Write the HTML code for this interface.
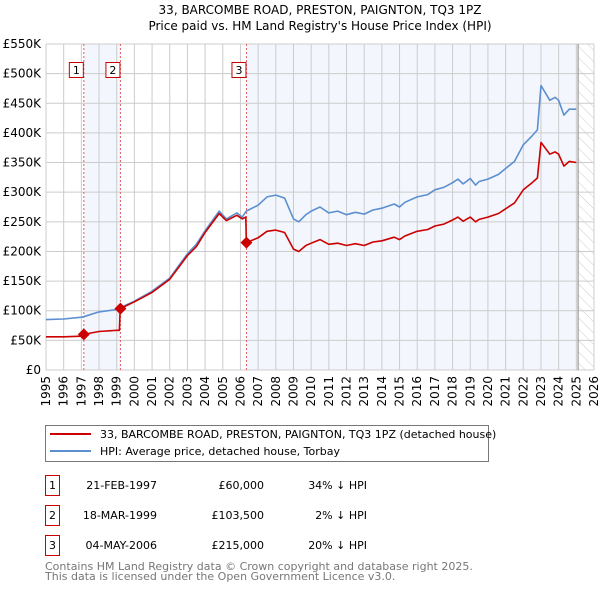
<!DOCTYPE html>
<html><head><meta charset="utf-8"><style>
body{margin:0;background:#fff;font-family:"DejaVu Sans","Liberation Sans",sans-serif}
svg text{font-family:"DejaVu Sans","Liberation Sans",sans-serif}
</style></head><body>
<svg id="c" width="600" height="590" xmlns="http://www.w3.org/2000/svg">
<defs><pattern id="hatch" patternUnits="userSpaceOnUse" width="8" height="8" patternTransform="rotate(-45)"><line x1="0" y1="0" x2="0" y2="8" stroke="#ccc" stroke-width="1"/></pattern></defs>
<text x="320" y="14" text-anchor="middle" font-size="12">33, BARCOMBE ROAD, PRESTON, PAIGNTON, TQ3 1PZ</text>
<text x="320" y="30" text-anchor="middle" font-size="12">Price paid vs. HM Land Registry's House Price Index (HPI)</text>
<g id="plot"></g>
<g>
<rect x="45.5" y="425.5" width="443" height="36" fill="#fff" stroke="#777"/>
<line x1="50" y1="434" x2="91" y2="434" stroke="#cc0000" stroke-width="2"/>
<text x="100" y="438" font-size="11">33, BARCOMBE ROAD, PRESTON, PAIGNTON, TQ3 1PZ (detached house)</text>
<line x1="50" y1="451" x2="91" y2="451" stroke="#5b8fd0" stroke-width="2"/>
<text x="100" y="455" font-size="11">HPI: Average price, detached house, Torbay</text>
</g>
<g id="table" font-size="11"></g>
<text x="45" y="570" font-size="11" fill="#777">Contains HM Land Registry data © Crown copyright and database right 2025.</text>
<text x="45" y="580" font-size="11" fill="#777">This data is licensed under the Open Government Licence v3.0.</text>
</svg>
<script>
const hpiYears=[1995,1996,1997,1997.13,1998,1999,1999.2,2000,2001,2002,2003,2003.5,2004,2004.8,2005.2,2005.8,2006.1,2006.33,2007,2007.5,2008,2008.5,2009,2009.3,2009.7,2010,2010.5,2011,2011.5,2012,2012.5,2013,2013.5,2014,2014.7,2015,2015.3,2016,2016.6,2017,2017.5,2018,2018.3,2018.6,2019,2019.3,2019.5,2020,2020.6,2021,2021.5,2022,2022.5,2022.8,2023,2023.5,2023.8,2024,2024.3,2024.6,2025];
const hpiValues=[85,86,89,90,98,102,105,116,133,155,196,212,235,268,255,265,258,268,278,292,295,290,255,250,262,268,275,265,268,262,266,263,270,273,280,275,283,292,296,304,308,316,322,314,323,312,318,322,330,340,352,380,395,405,480,455,460,455,430,440,440];
const priceYears=[1995,1996,1997,1997.13,1998,1999,1999.15,1999.2,2000,2001,2002,2003,2003.5,2004,2004.8,2005.2,2005.8,2006.1,2006.3,2006.33,2007,2007.5,2008,2008.5,2009,2009.3,2009.7,2010,2010.5,2011,2011.5,2012,2012.5,2013,2013.5,2014,2014.7,2015,2015.3,2016,2016.6,2017,2017.5,2018,2018.3,2018.6,2019,2019.3,2019.5,2020,2020.6,2021,2021.5,2022,2022.5,2022.8,2023,2023.5,2023.8,2024,2024.3,2024.6,2025];
const priceValues=[56,56,57,60,65,67,67,103.5,115,131,153,193,208,232,264,252,261,255,258,215,223,234,236,232,204,200,210,214,220,212,214,210,213,210,216,218,224,220,226,234,237,243,246,253,258,251,258,250,254,258,264,272,282,304,316,324,384,364,368,364,344,352,350];
const saleLabels=["1","2","3"];
const saleYears=[1997.14,1999.21,2006.34];
const saleValues=[60,103.5,215];
const saleDates=["21-FEB-1997","18-MAR-1999","04-MAY-2006"];
const salePrices=["£60,000","£103,500","£215,000"];
const saleDiffs=["34% ↓ HPI","2% ↓ HPI","20% ↓ HPI"];
const yTicks=[0,50,100,150,200,250,300,350,400,450,500,550];
const yTickLabels=["£0","£50K","£100K","£150K","£200K","£250K","£300K","£350K","£400K","£450K","£500K","£550K"];
const xTicks=[1995,1996,1997,1998,1999,2000,2001,2002,2003,2004,2005,2006,2007,2008,2009,2010,2011,2012,2013,2014,2015,2016,2017,2018,2019,2020,2021,2022,2023,2024,2025,2026];
const dataEnd=2025.1;

const X0=46,X1=594,Y0=370,Y1=44;
const x=v=>X0+(v-1995)/(2026-1995)*(X1-X0);
const y=v=>Y0-v/550*(Y0-Y1);
const NS="http://www.w3.org/2000/svg";
const g=document.getElementById('plot');
function mk(t,a,p){const e=document.createElementNS(NS,t);for(const k in a)e.setAttribute(k,a[k]);(p||g).appendChild(e);return e;}
let e;
e=mk('rect',{x:X0,y:Y1,width:X1-X0,height:Y0-Y1,fill:'#fff'});


for(let i=0;i<saleYears.length;i++){
  const end=i+1<saleYears.length?saleYears[i+1]:dataEnd;
  if(i===0||i===2){
    e=mk('rect',{x:x(saleYears[i]),y:Y1,width:x(end)-x(saleYears[i]),height:Y0-Y1,fill:'#f3f6fd'});
    
    
  }
}
e=mk('rect',{x:x(dataEnd),y:Y1,width:X1-x(dataEnd),height:Y0-Y1,fill:'url(#hatch)'});


yTicks.forEach((t,i)=>{
  e=mk('line',{x1:X0,x2:X1,y1:y(t),y2:y(t),stroke:'#ccc','stroke-width':1});
  
  
  e=mk('text',{x:X0-5,y:y(t)+4,'text-anchor':'end','font-size':12});
  e.textContent=yTickLabels[i];
  
  
});
xTicks.forEach(t=>{
  e=mk('line',{x1:x(t),x2:x(t),y1:Y1,y2:Y0,stroke:'#ccc','stroke-width':1});
  
  
  e=mk('text',{x:0,y:0,'text-anchor':'end','font-size':12,transform:`translate(${x(t)+4},${Y0+6}) rotate(-90)`});
  e.textContent=t;
  
  
});
e=mk('line',{x1:x(dataEnd),x2:x(dataEnd),y1:Y1,y2:Y0,stroke:'#888','stroke-width':1});


saleYears.forEach((s,i)=>{
  e=mk('line',{x1:x(s),x2:x(s),y1:Y1,y2:Y0,stroke:'#e06060','stroke-width':1,'stroke-dasharray':'2,2'});
  
  
});
function path(xs,vs,col,name){
  const d=xs.map((v,i)=>(i?'L':'M')+x(v).toFixed(1)+','+y(vs[i]).toFixed(1)).join('');
  e=mk('path',{d,fill:'none',stroke:col,'stroke-width':1.6,'stroke-linejoin':'round'});
  
  
}
path(hpiYears,hpiValues,'#5b8fd0','hpi-line');
path(priceYears,priceValues,'#cc0000','price-paid-line');
saleYears.forEach((s,i)=>{
  const cx=x(s),cy=y(saleValues[i]);
  e=mk('path',{d:`M${cx},${cy-6}L${cx+6},${cy}L${cx},${cy+6}L${cx-6},${cy}Z`,fill:'#cc0000'});
  
  
  e=mk('rect',{x:cx-14.5,y:62.5,width:14,height:15,fill:'#fff',stroke:'#cc0000'});
  
  
  e=mk('text',{x:cx-7.5,y:74,'text-anchor':'middle','font-size':11});
  e.textContent=saleLabels[i];
  
  
});
const tb=document.getElementById('table');
saleLabels.forEach((l,i)=>{
  const ty=475+i*30;
  e=mk('rect',{x:45.5,y:ty+0.5,width:14,height:20,fill:'#fff',stroke:'#cc0000'},tb);
  
  
  e=mk('text',{x:52.5,y:ty+14,'text-anchor':'middle'},tb);e.textContent=l;
  
  
  e=mk('text',{x:157,y:ty+14,'text-anchor':'end'},tb);e.textContent=saleDates[i];
  
  
  e=mk('text',{x:264,y:ty+14,'text-anchor':'end'},tb);e.textContent=salePrices[i];
  
  
  e=mk('text',{x:367,y:ty+14,'text-anchor':'end'},tb);e.textContent=saleDiffs[i];
  
  
});
</script>
</body></html>
